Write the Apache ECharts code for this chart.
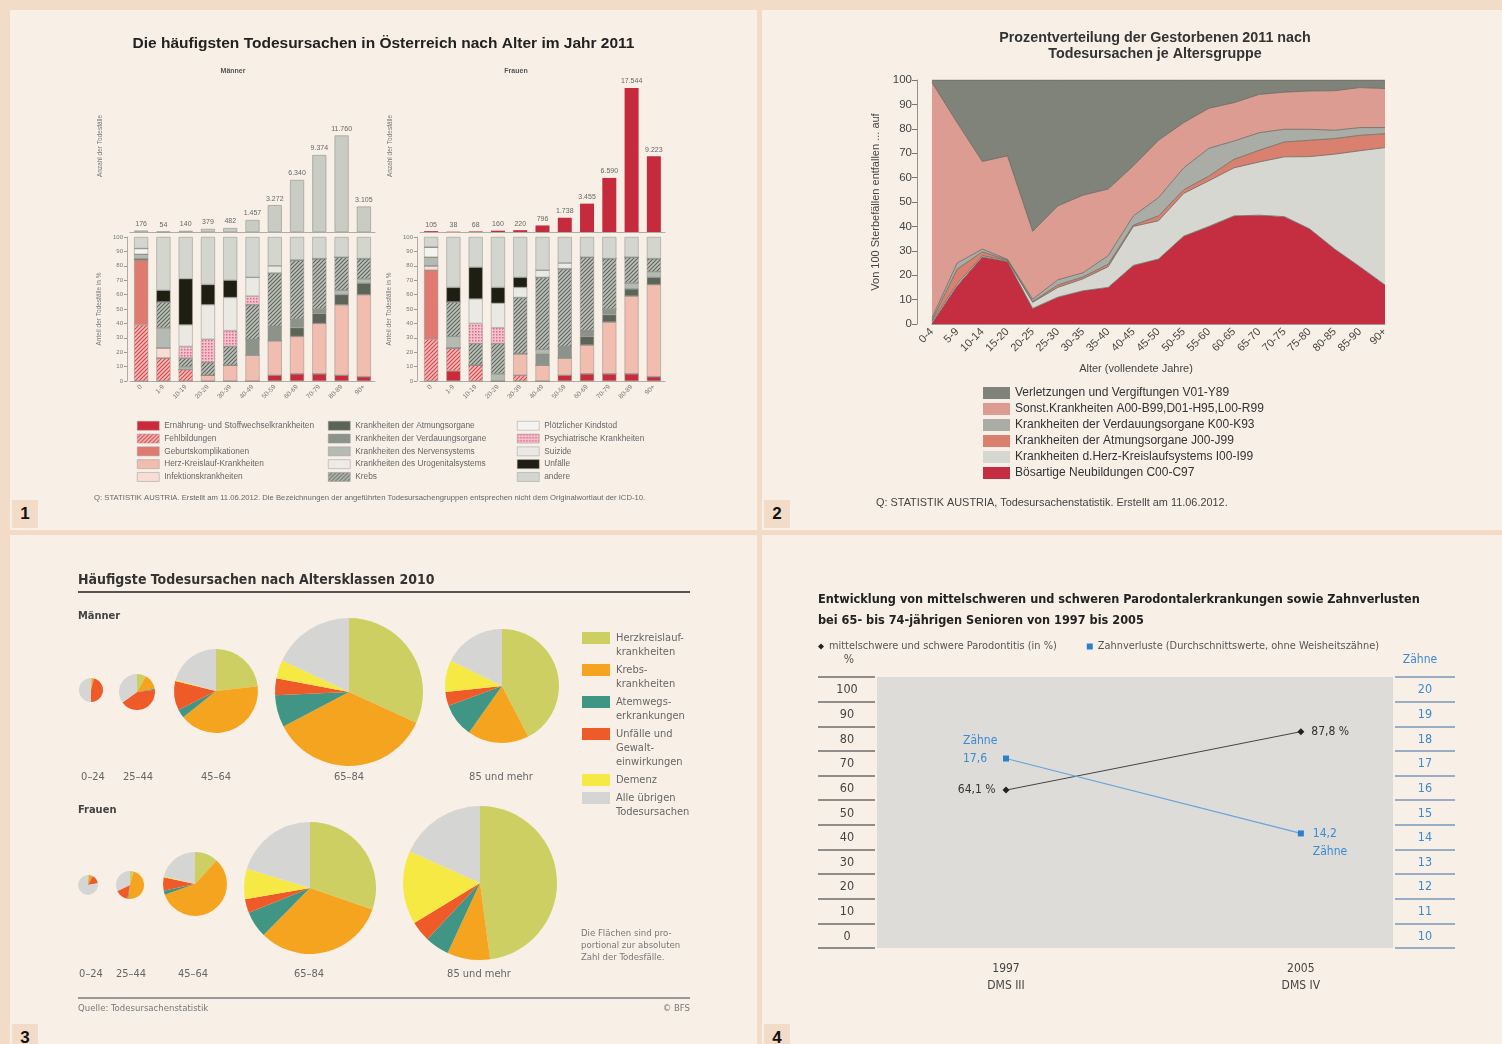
<!DOCTYPE html>
<html>
<head>
<meta charset="utf-8">
<script src="https://cdn.jsdelivr.net/npm/echarts@6/dist/echarts.min.js"></script>
<style>
  body { margin: 0; width: 1502px; height: 1044px; background: #f2dcc8; position: relative; overflow: hidden; }
  .panel { position: absolute; background: #f8f0e7; }
  .num { position: absolute; width: 26px; height: 28px; background: #f2dcc8; color: #111;
         font: bold 17px "Liberation Sans", Arial, sans-serif; text-align: center; line-height: 28px; }
</style>
</head>
<body>
<div id="p1" class="panel" style="left:10px;top:10px;width:747px;height:520px"></div>
<div id="p2" class="panel" style="left:762px;top:10px;width:740px;height:520px"></div>
<div id="p3" class="panel" style="left:10px;top:535px;width:747px;height:509px"></div>
<div id="p4" class="panel" style="left:762px;top:535px;width:740px;height:509px"></div>
<div class="num" style="left:12px;top:500px">1</div>
<div class="num" style="left:764px;top:500px">2</div>
<div class="num" style="left:12px;top:1024px">3</div>
<div class="num" style="left:764px;top:1024px">4</div>
<script>
// ---------- Daten Grafik 1: Todesursachen Österreich 2011 ----------
const ageGroups1 = ['0', '1-9', '10-19', '20-29', '30-39', '40-49', '50-59', '60-69', '70-79', '80-89', '90+'];
const menTotals = [176, 54, 140, 379, 482, 1457, 3272, 6340, 9374, 11760, 3105];
const womenTotals = [105, 38, 68, 160, 220, 796, 1738, 3455, 6590, 17544, 9223];
const causes1 = [
  'Ernährung- und Stoffwechselkrankheiten', 'Fehlbildungen', 'Geburtskomplikationen',
  'Herz-Kreislauf-Krankheiten', 'Infektionskrankheiten', 'Krankheiten der Atmungsorgane',
  'Krankheiten der Verdauungsorgane', 'Krankheiten des Nervensystems', 'Krankheiten des Urogenitalsystems',
  'Krebs', 'Plötzlicher Kindstod', 'Psychiatrische Krankheiten', 'Suizide', 'Unfälle', 'andere'
];
// Anteile in % je Ursache (Zeilen) und Altersgruppe (Spalten)
const menShares = [
  [0, 0, 0, 0, 0, 0, 4, 5, 5, 4, 3],
  [39, 16, 8, 0, 0, 0, 0, 0, 0, 0, 0],
  [45, 0, 0, 0, 0, 0, 0, 0, 0, 0, 0],
  [0, 0, 0, 4, 11, 18, 24, 26, 35, 49, 57],
  [0, 7, 0, 0, 0, 0, 0, 0, 0, 0, 0],
  [1, 0, 0, 0, 0, 0, 0, 6, 7, 7, 8],
  [0, 0, 0, 0, 0, 11, 10, 6, 3, 0, 0],
  [3, 14, 2, 0, 0, 0, 0, 0, 0, 3, 3],
  [0, 0, 0, 0, 0, 0, 0, 0, 0, 0, 0],
  [0, 18, 6, 9, 13, 24, 37, 41, 35, 23, 14],
  [4, 0, 0, 0, 0, 0, 0, 0, 0, 0, 0],
  [0, 0, 8, 16, 11, 6, 0, 0, 0, 0, 0],
  [0, 0, 15, 24, 23, 13, 5, 0, 0, 0, 0],
  [0, 8, 32, 14, 12, 0, 0, 0, 0, 0, 0],
  [8, 37, 29, 33, 30, 28, 20, 16, 15, 14, 15]
];
const womenShares = [
  [0, 7, 0, 0, 0, 0, 4, 5, 5, 5, 3],
  [29, 16, 11, 0, 4, 0, 0, 0, 0, 0, 0],
  [48, 0, 0, 0, 0, 0, 0, 0, 0, 0, 0],
  [0, 0, 0, 0, 15, 11, 12, 20, 36, 54, 64],
  [3, 0, 0, 0, 0, 0, 0, 0, 0, 0, 0],
  [0, 0, 0, 0, 0, 0, 0, 6, 5, 5, 5],
  [0, 0, 0, 0, 0, 8, 8, 4, 4, 0, 0],
  [6, 8, 0, 5, 0, 3, 0, 0, 0, 4, 4],
  [0, 0, 0, 0, 0, 0, 0, 0, 0, 0, 0],
  [0, 24, 15, 21, 39, 50, 54, 51, 35, 18, 9],
  [7, 0, 0, 0, 0, 0, 0, 0, 0, 0, 0],
  [0, 0, 14, 11, 0, 0, 0, 0, 0, 0, 0],
  [0, 0, 17, 17, 7, 5, 4, 0, 0, 0, 0],
  [0, 10, 22, 11, 7, 0, 0, 0, 0, 0, 0],
  [7, 35, 21, 35, 28, 23, 18, 14, 15, 14, 15]
];

// ---------- Daten Grafik 2: Prozentverteilung 2011 ----------
const ageGroups2 = ['0-4', '5-9', '10-14', '15-20', '20-25', '25-30', '30-35', '35-40', '40-45', '45-50',
  '50-55', '55-60', '60-65', '65-70', '70-75', '75-80', '80-85', '85-90', '90+'];
const boesartig = [0.3, 15.7, 27.5, 25.6, 6.4, 11, 13.6, 15, 24, 26.6, 36, 40, 44.3, 44.6, 44, 39, 30.7, 23.5, 16];
const herzKreislauf = [0.7, 0.8, 0.5, 0.4, 2.5, 4, 4.9, 8.5, 16, 15.7, 17.5, 18.7, 19.7, 21.8, 24.5, 29.6, 38.9, 47.5, 56.3];
const atmung = [0.5, 6, 1.6, 0.2, 0.3, 1, 0.8, 1, 0.5, 2, 1.5, 1.9, 3.5, 4.8, 6.1, 6.7, 6.4, 6.3, 5.7];
const verdauung = [1, 2.5, 1.1, 0.3, 1, 2.1, 1.7, 3.5, 3.8, 7.5, 9, 11.4, 7.5, 7.2, 5.2, 4.5, 3.4, 3.2, 2.5];
const sonstige = [96.5, 57.5, 35.9, 42.4, 27.8, 30.3, 31.8, 27.3, 20.5, 23.5, 18.5, 16.4, 15.7, 15.7, 15.2, 15.7, 16.2, 16.4, 16];
const verletzungen = [1, 17.5, 33.4, 31.1, 62, 51.6, 47.2, 44.7, 35.2, 24.7, 17.5, 11.6, 9.3, 5.9, 5, 4.5, 4.4, 3.1, 3.5];

// ---------- Daten Grafik 3: Schweiz 2010 ----------
const pieAges = ['0–24', '25–44', '45–64', '65–84', '85 und mehr'];
const pieCauses = ['Herzkreislauf-\nkrankheiten', 'Krebs-\nkrankheiten', 'Atemwegs-\nerkrankungen',
  'Unfälle und\nGewalt-\neinwirkungen', 'Demenz', 'Alle übrigen\nTodesursachen'];
// Anteile in % je Altersklasse (Zeilen) und Ursache (Spalten)
const menPies = [
  [1, 3, 0, 46, 0, 50],
  [8, 14, 1, 42, 0, 35],
  [23.2, 41, 3.3, 11.3, 0.5, 20.7],
  [31.8, 35.5, 7, 3.7, 4, 18],
  [42.4, 17.4, 9.6, 3.9, 9, 17.7]
];
const womenPies = [
  [1, 6, 1, 14, 0, 78],
  [4, 48, 1, 15, 0, 32],
  [11.8, 57.8, 2, 6.8, 0.5, 21.1],
  [30.3, 32.1, 6.5, 3.4, 7.4, 20.3],
  [47.9, 9, 5.1, 4.3, 15.4, 18.3]
];

// ---------- Daten Grafik 4: Parodontitis / Zahnverluste ----------
const surveyYears = [1997, 2005];
const surveyNames = ['DMS III', 'DMS IV'];
const parodontitis = [64.1, 87.8];
const zahnverluste = [17.6, 14.2];

// ---------- Hilfsfunktionen ----------
const F1 = '"Liberation Sans", Arial, sans-serif';
const F3 = '"DejaVu Sans Condensed", "Liberation Sans", sans-serif';
const de = v => String(v).replace(/\B(?=(\d{3})+(?!\d))/g, '.');
const komma = v => String(v).replace('.', ',');

function hatch(bg, fg) {
  const c = document.createElement('canvas');
  c.width = c.height = 4;
  const g = c.getContext('2d');
  g.fillStyle = bg; g.fillRect(0, 0, 4, 4);
  g.strokeStyle = fg; g.lineWidth = 1.1;
  g.beginPath();
  g.moveTo(0, 4); g.lineTo(4, 0);
  g.moveTo(-1, 1); g.lineTo(1, -1);
  g.moveTo(3, 5); g.lineTo(5, 3);
  g.stroke();
  return { image: c, repeat: 'repeat' };
}
function dots(bg, fg) {
  const c = document.createElement('canvas');
  c.width = c.height = 3;
  const g = c.getContext('2d');
  g.fillStyle = bg; g.fillRect(0, 0, 3, 3);
  g.fillStyle = fg; g.fillRect(0, 0, 1.5, 1.5);
  return { image: c, repeat: 'repeat' };
}

// ================= Grafik 1 =================
const colors1 = [
  '#cc2a3a', hatch('#f3bcb5', '#da4450'), '#e07a6f', '#f0bdaf', '#f7ddd3',
  '#5c6458', '#8c938a', '#b5bbb3', '#ecebe6', hatch('#bcc2ba', '#5d655b'),
  '#f5f3ef', dots('#f3c3cd', '#df6a86'), '#ebe9e3', '#1e1e12', '#d3d5cf'
];
const chart1 = echarts.init(document.getElementById('p1'));
const series1 = [
  { type: 'bar', xAxisIndex: 0, yAxisIndex: 0, data: menTotals, barWidth: 14, silent: true,
    itemStyle: { color: '#c9ccc4', borderColor: '#8f928b', borderWidth: 0.6 },
    label: { show: true, position: 'top', distance: 3, fontSize: 7, color: '#666', fontFamily: F1, formatter: p => de(p.value) } },
  { type: 'bar', xAxisIndex: 2, yAxisIndex: 2, data: womenTotals, barWidth: 14, silent: true,
    itemStyle: { color: '#c62a3d' },
    label: { show: true, position: 'top', distance: 3, fontSize: 7, color: '#666', fontFamily: F1, formatter: p => de(p.value) } }
];
causes1.forEach((name, i) => {
  [menShares, womenShares].forEach((mat, s) => {
    series1.push({
      name, type: 'bar', stack: s ? 'f' : 'm', xAxisIndex: s ? 3 : 1, yAxisIndex: s ? 3 : 1,
      data: mat[i], barWidth: 14, silent: true,
      itemStyle: { color: colors1[i], borderColor: '#8d8f8a', borderWidth: 0.5 }
    });
  });
});
const catAxis = (grid, labels) => ({
  type: 'category', gridIndex: grid, data: ageGroups1,
  axisLine: { lineStyle: { color: '#9a9a96', width: 0.8 } }, axisTick: { show: false },
  axisLabel: labels ? { rotate: 45, fontSize: 6.5, color: '#777', fontFamily: F1, margin: 5, interval: 0 } : { show: false }
});
const countAxis = (grid) => ({
  type: 'value', gridIndex: grid, min: 0, max: 17544,
  axisLine: { show: false }, axisTick: { show: false }, axisLabel: { show: false }, splitLine: { show: false },
  name: 'Anzahl der Todesfälle', nameLocation: 'middle', nameGap: 26,
  nameTextStyle: { fontSize: 6.5, color: '#777', fontFamily: F1, padding: [0, 0, 0, 28] }
});
const shareAxis = (grid) => ({
  type: 'value', gridIndex: grid, min: 0, max: 100, interval: 10, offset: 3,
  axisLine: { show: true, lineStyle: { color: '#9a9a96', width: 0.8 } },
  axisTick: { show: true, length: 3, lineStyle: { color: '#9a9a96' } },
  axisLabel: { fontSize: 6, color: '#777', fontFamily: F1, margin: 4 },
  splitLine: { show: false },
  name: 'Anteil der Todesfälle in %', nameLocation: 'middle', nameGap: 24,
  nameTextStyle: { fontSize: 6.5, color: '#777', fontFamily: F1 }
});
chart1.setOption({
  animation: false,
  title: { text: 'Die häufigsten Todesursachen in Österreich nach Alter im Jahr 2011', left: 'center', top: 21,
    textStyle: { fontSize: 15.5, fontWeight: 'bold', color: '#222', fontFamily: F1 } },
  grid: [
    { left: 120, top: 78, width: 245, height: 144 },
    { left: 120, top: 227, width: 245, height: 144 },
    { left: 410, top: 78, width: 245, height: 144 },
    { left: 410, top: 227, width: 245, height: 144 }
  ],
  xAxis: [catAxis(0, false), catAxis(1, true), catAxis(2, false), catAxis(3, true)],
  yAxis: [countAxis(0), shareAxis(1), countAxis(2), shareAxis(3)],
  legend: [0, 1, 2].map(k => ({
    orient: 'vertical', left: [127, 318, 507][k], top: 411, padding: 0, data: causes1.slice(k * 5, k * 5 + 5),
    icon: 'rect', itemWidth: 22, itemHeight: 9, itemGap: 3.3, selectedMode: false,
    itemStyle: { borderColor: '#999', borderWidth: 0.5 },
    textStyle: { fontSize: 8.3, color: '#666', fontFamily: F1, lineHeight: 9 }
  })),
  graphic: [
    { type: 'text', x: 223, y: 58, style: { text: 'Männer', fontSize: 7, fontWeight: 'bold', fill: '#555', fontFamily: F1, align: 'center' } },
    { type: 'text', x: 506, y: 58, style: { text: 'Frauen', fontSize: 7, fontWeight: 'bold', fill: '#555', fontFamily: F1, align: 'center' } },
    { type: 'text', x: 84, y: 484, style: { text: 'Q: STATISTIK AUSTRIA. Erstellt am 11.06.2012. Die Bezeichnungen der angeführten Todesursachengruppen entsprechen nicht dem Originalwortlaut der ICD-10.', fontSize: 7.7, fill: '#666', fontFamily: F1 } }
  ],
  series: series1
});

// ================= Grafik 2 =================
const chart2 = echarts.init(document.getElementById('p2'));
const areaSeries = [
  ['Bösartige Neubildungen C00-C97', boesartig, '#c42e40'],
  ['Krankheiten d.Herz-Kreislaufsystems I00-I99', herzKreislauf, '#d7d7d1'],
  ['Krankheiten der Atmungsorgane J00-J99', atmung, '#d9806f'],
  ['Krankheiten der Verdauungsorgane K00-K93', verdauung, '#a9ada5'],
  ['Sonst.Krankheiten A00-B99,D01-H95,L00-R99', sonstige, '#dd9c92'],
  ['Verletzungen und Vergiftungen V01-Y89', verletzungen, '#7f8379']
];
chart2.setOption({
  animation: false,
  title: { text: 'Prozentverteilung der Gestorbenen 2011 nach\nTodesursachen je Altersgruppe', left: 388, textAlign: 'center', top: 15,
    textStyle: { fontSize: 14.3, fontWeight: 'bold', color: '#333', fontFamily: F1, lineHeight: 16 } },
  grid: { left: 170, top: 70, width: 453, height: 244 },
  xAxis: {
    type: 'category', data: ageGroups2, boundaryGap: false,
    axisLine: { lineStyle: { color: '#888', width: 0.8 } }, axisTick: { show: false },
    axisLabel: { rotate: 45, fontSize: 11, color: '#444', fontFamily: F1, interval: 0, margin: 6 },
    name: 'Alter (vollendete Jahre)', nameLocation: 'middle', nameGap: 39,
    nameTextStyle: { fontSize: 11, color: '#444', fontFamily: F1, padding: [0, 45, 0, 0] }
  },
  yAxis: {
    type: 'value', min: 0, max: 100, interval: 10, offset: 15,
    axisLine: { show: true, lineStyle: { color: '#777', width: 0.8 } },
    axisTick: { show: true, length: 5, lineStyle: { color: '#777' } },
    axisLabel: { fontSize: 11.5, color: '#444', fontFamily: F1, margin: 5 },
    splitLine: { show: false },
    name: 'Von 100 Sterbefällen entfallen ... auf', nameLocation: 'middle', nameGap: 36,
    nameTextStyle: { fontSize: 11, color: '#444', fontFamily: F1 }
  },
  legend: {
    orient: 'vertical', left: 221, top: 377, padding: 0, icon: 'rect', itemWidth: 27, itemHeight: 12, itemGap: 4,
    selectedMode: false, data: areaSeries.map(s => s[0]).reverse(),
    textStyle: { fontSize: 12, color: '#333', fontFamily: F1, lineHeight: 12 }
  },
  graphic: [
    { type: 'text', x: 114, y: 487, style: { text: 'Q: STATISTIK AUSTRIA, Todesursachenstatistik. Erstellt am 11.06.2012.', fontSize: 10.9, fill: '#444', fontFamily: F1 } }
  ],
  series: areaSeries.map(([name, data, color]) => ({
    name, type: 'line', stack: 'all', data, symbol: 'none', silent: true, color,
    itemStyle: { color },
    lineStyle: { color: '#67675f', width: 0.8 },
    areaStyle: { color, opacity: 1 }
  }))
});

// ================= Grafik 3 =================
const chart3 = echarts.init(document.getElementById('p3'));
const pieColors = ['#cdcf62', '#f5a420', '#419585', '#ee5b28', '#f6e944', '#d5d5d4'];
const pieLayout = {
  men: { cx: [81, 127, 206, 339, 492], cy: [155, 157, 156, 157, 151], r: [12, 18, 42, 74, 57], labelX: [83, 128, 206, 339, 491], labelY: 244 },
  women: { cx: [78, 120, 185, 300, 470], cy: [350, 350, 349, 353, 348], r: [10, 14, 32, 66, 77], labelX: [81, 121, 183, 299, 469], labelY: 441 }
};
const pieName = s => s.replace(/-\n/g, '-').replace(/\n/g, ' ');
const series3 = [];
const graphic3 = [
  { type: 'rect', shape: { x: 68, y: 56, width: 612, height: 2 }, style: { fill: '#555' } },
  { type: 'text', x: 68, y: 76, style: { text: 'Männer', fontSize: 11, fontWeight: 'bold', fill: '#444', fontFamily: F3 } },
  { type: 'text', x: 68, y: 270, style: { text: 'Frauen', fontSize: 11, fontWeight: 'bold', fill: '#444', fontFamily: F3 } },
  { type: 'text', x: 571, y: 393, style: { text: 'Die Flächen sind pro-\nportional zur absoluten\nZahl der Todesfälle.', fontSize: 9.5, lineHeight: 12, fill: '#777', fontFamily: F3 } },
  { type: 'rect', shape: { x: 68, y: 462, width: 612, height: 2 }, style: { fill: '#999' } },
  { type: 'text', x: 68, y: 469, style: { text: 'Quelle: Todesursachenstatistik', fontSize: 9.5, fill: '#777', fontFamily: F3 } },
  { type: 'text', x: 680, y: 469, style: { text: '© BFS', fontSize: 9.5, fill: '#777', fontFamily: F3, align: 'right' } }
];
[['men', menPies], ['women', womenPies]].forEach(([key, rows]) => {
  const L = pieLayout[key];
  rows.forEach((vals, i) => {
    series3.push({
      type: 'pie', center: [L.cx[i], L.cy[i]], radius: L.r[i], startAngle: 90, clockwise: true,
      silent: true, label: { show: false }, labelLine: { show: false },
      data: vals.map((v, j) => ({ name: pieName(pieCauses[j]), value: v, itemStyle: { color: pieColors[j] } }))
    });
    graphic3.push({ type: 'text', x: L.labelX[i], y: L.labelY - 7,
      style: { text: pieAges[i], fontSize: 11, fill: '#666', fontFamily: F3, align: 'center' } });
  });
});
let legendTop = 97;
pieCauses.forEach((label, j) => {
  graphic3.push({ type: 'rect', shape: { x: 572, y: legendTop, width: 28, height: 12 }, style: { fill: pieColors[j] } });
  graphic3.push({ type: 'text', x: 606, y: legendTop - 1,
    style: { text: label, fontSize: 11, lineHeight: 14, fill: '#666', fontFamily: F3, verticalAlign: 'top' } });
  legendTop += label.split('\n').length * 14 + 4;
});
chart3.setOption({
  animation: false,
  title: { text: 'Häufigste Todesursachen nach Altersklassen 2010', left: 63, top: 33,
    textStyle: { fontSize: 14, fontWeight: 'bold', color: '#333', fontFamily: F3 } },
  graphic: graphic3,
  series: series3
});

// ================= Grafik 4 =================
const chart4 = echarts.init(document.getElementById('p4'));
const tableAxis = (grid, min, max, color, lineColor) => ({
  type: 'value', gridIndex: grid, min, max, interval: max > 50 ? 10 : 1,
  axisLine: { show: false }, axisTick: { show: false },
  splitLine: { show: true, lineStyle: { color: lineColor, width: 1.5 } },
  axisLabel: { inside: true, margin: grid === 1 ? 29 : 30, align: 'center', verticalAlign: 'bottom',
    padding: [0, 0, 5, 0], fontSize: 12.5, color, fontFamily: F3,
    formatter: v => (v < max ? String(v) : '') }
});
const nameP = 'mittelschwere und schwere Parodontitis (in %)';
const nameZ = 'Zahnverluste (Durchschnittswerte, ohne Weisheitszähne)';
chart4.setOption({
  animation: false,
  title: { text: 'Entwicklung von mittelschweren und schweren Parodontalerkrankungen sowie Zahnverlusten\nbei 65- bis 74-jährigen Senioren von 1997 bis 2005',
    left: 51, top: 49, textStyle: { fontSize: 12.6, fontWeight: 'bold', color: '#222', fontFamily: F3, lineHeight: 21 } },
  legend: {
    left: 56, top: 106, padding: 0, itemWidth: 6, itemHeight: 6, itemGap: 30, selectedMode: false,
    data: [{ name: nameP, icon: 'diamond' }, { name: nameZ, icon: 'rect' }],
    textStyle: { fontSize: 10.9, color: '#555', fontFamily: F3 }
  },
  grid: [
    { left: 115, top: 142, width: 516, height: 271, show: true, backgroundColor: '#dddcd9', borderWidth: 0 },
    { left: 56, top: 142, width: 57, height: 271 },
    { left: 633, top: 142, width: 60, height: 271 }
  ],
  xAxis: [
    { type: 'value', gridIndex: 0, min: 1993.5, max: 2007.5,
      axisLine: { show: false }, axisTick: { show: false }, splitLine: { show: false },
      axisLabel: { customValues: surveyYears, fontSize: 12, color: '#444', fontFamily: F3, lineHeight: 17, margin: 12,
        formatter: v => v + '\n' + surveyNames[surveyYears.indexOf(v)] } },
    { type: 'value', gridIndex: 1, show: false },
    { type: 'value', gridIndex: 2, show: false }
  ],
  yAxis: [
    { type: 'value', gridIndex: 0, min: 0, max: 110, show: false },
    { type: 'value', gridIndex: 0, min: 9, max: 21.3, show: false },
    tableAxis(1, 0, 110, '#444', '#6d6d6a'),
    tableAxis(2, 10, 21, '#3b8ad2', '#7a98b8')
  ],
  graphic: [
    { type: 'text', x: 87, y: 119, style: { text: '%', fontSize: 12, fill: '#555', fontFamily: F3, align: 'center' } },
    { type: 'text', x: 658, y: 119, style: { text: 'Zähne', fontSize: 12, fill: '#3b8ad2', fontFamily: F3, align: 'center' } }
  ],
  series: [
    { name: nameP, type: 'line', xAxisIndex: 0, yAxisIndex: 0, silent: true, color: '#222',
      data: surveyYears.map((y, i) => ({ value: [y, parodontitis[i]], label: { position: i ? 'right' : 'left' } })),
      symbol: 'diamond', symbolSize: 7, itemStyle: { color: '#222' }, lineStyle: { color: '#444', width: 1 },
      label: { show: true, fontSize: 12, color: '#333', fontFamily: F3, distance: 7,
        formatter: p => komma(p.value[1]) + ' %' }
    },
    { name: nameZ, type: 'line', xAxisIndex: 0, yAxisIndex: 1, silent: true, color: '#2a7fcf',
      data: surveyYears.map((y, i) => [y, zahnverluste[i]]),
      symbol: 'rect', symbolSize: 6, itemStyle: { color: '#2a7fcf' }, lineStyle: { color: '#6aa3da', width: 1.2 },
      label: { show: true, fontSize: 12, color: '#3b8ad2', fontFamily: F3, lineHeight: 18, align: 'left',
        formatter: p => (p.dataIndex === 0 ? 'Zähne\n' + komma(p.value[1]) : komma(p.value[1]) + '\nZähne') },
      labelLayout: p => (p.dataIndex === 0
        ? { x: p.rect.x - 40, y: p.rect.y - 24, align: 'left', verticalAlign: 'top' }
        : { x: p.rect.x + 15, y: p.rect.y - 6, align: 'left', verticalAlign: 'top' })
    }
  ]
});
</script>
</body>
</html>
